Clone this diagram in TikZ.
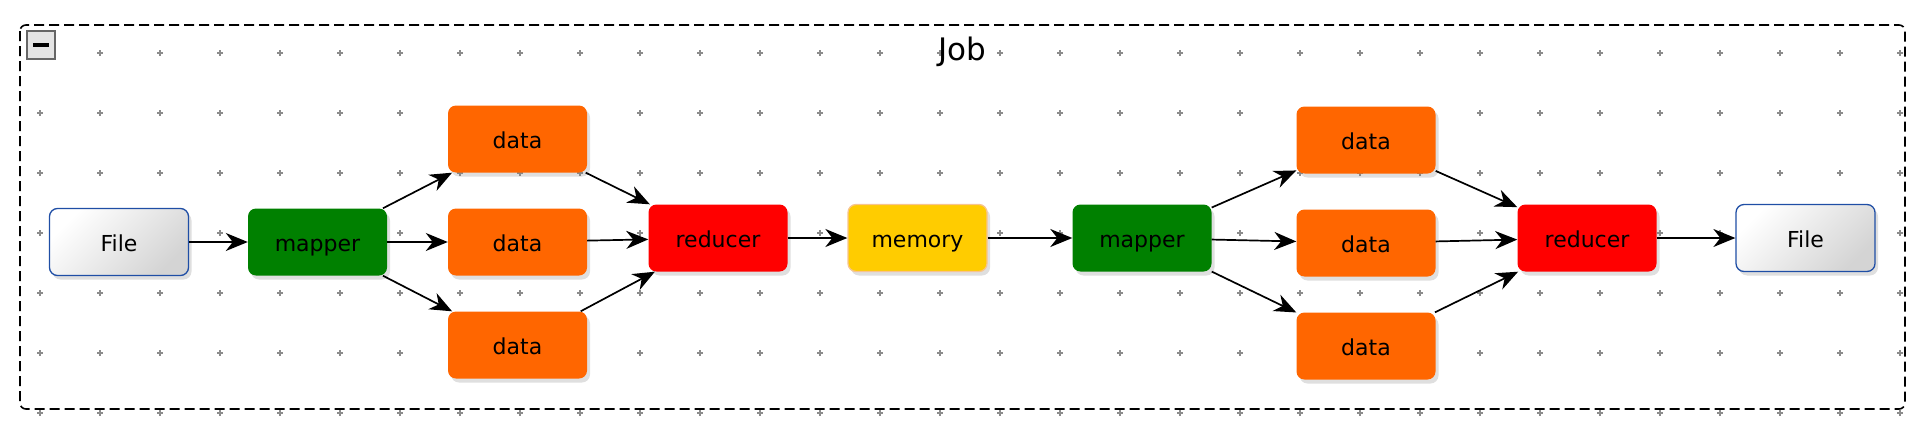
\documentclass[tikz,border=0pt]{standalone}
\usepackage{fontspec}
\setmainfont{DejaVu Sans}
\usetikzlibrary{arrows.meta,shadows}
\definecolor{mapgreen}{HTML}{008000}
\definecolor{dataorange}{HTML}{FF6600}
\definecolor{redfill}{HTML}{FF0000}
\definecolor{memyellow}{HTML}{FFCC00}
\definecolor{memborder}{HTML}{F7C48E}
\definecolor{fileblue}{HTML}{1F4EA5}
\definecolor{plusgray}{HTML}{8C8C8C}
\definecolor{btngray}{HTML}{E4E4E4}
\tikzset{font=\fontsize{22}{26}\selectfont}
\tikzset{box/.style={rounded corners=8pt, minimum width=139pt, minimum height=67pt,
    inner sep=0pt, text height=18.6pt, text depth=0pt,
    drop shadow={shadow xshift=3pt, shadow yshift=-4pt, opacity=.25}}}
\tikzset{filebox/.style={box, draw=fileblue, line width=1.3pt,
    top color=white, bottom color=black!17, shading angle=45}}
\tikzset{mapbox/.style={box, fill=mapgreen}}
\tikzset{databox/.style={box, fill=dataorange}}
\tikzset{redbox/.style={box, fill=redfill}}
\tikzset{membox/.style={box, fill=memyellow, draw=memborder, line width=1.3pt}}
\tikzset{flow/.style={line width=1.7pt, -{Stealth[length=22pt, width=18pt, inset=7pt]}}}
\tikzset{plusmark/.style={plusgray, line width=1.5pt}}

\begin{document}
\begin{tikzpicture}[x=1pt,y=-1pt]
  \useasboundingbox (0,0) rectangle (1924,434);

  % grid
  \foreach \x in {40,100,...,1900}
    \foreach \y in {53,113,...,413}
      \draw[plusmark] (\x-3,\y) -- (\x+3,\y) (\x,\y-3) -- (\x,\y+3);

  \draw[line width=1.6pt, rounded corners=6pt, dash pattern=on 10pt off 5pt]
    (20,25) rectangle (1905,409);
  \node[draw=black!60, fill=btngray, line width=1.3pt, minimum size=28pt, inner sep=0pt]
    (btn) at (41,45) {};
  \fill (btn.center) +(-8,-2) rectangle +(8,2);
  \node[font=\fontsize{31}{36}\selectfont] (job) at (962,52) {Job};

  \node[filebox] (f1) at (119,242) {File};
  \node[mapbox] (m1) at (317.5,242) {mapper};
  \node[databox] (d1) at (517.5,139) {data};
  \node[databox] (d2) at (517.5,242) {data};
  \node[databox] (d3) at (517.5,345) {data};
  \node[redbox] (r1) at (718,238) {reducer};
  \node[membox] (mem) at (917.5,238) {memory};
  \node[mapbox] (m2) at (1142,238) {mapper};
  \node[databox] (d4) at (1366,140) {data};
  \node[databox] (d5) at (1366,243) {data};
  \node[databox] (d6) at (1366,346) {data};
  \node[redbox] (r2) at (1587,238) {reducer};
  \node[filebox] (f2) at (1805.5,238) {File};

  \draw[flow] (f1) -- (m1);
  \foreach \d in {d1,d2,d3} {
    \draw[flow] (m1) -- (\d);
    \draw[flow] (\d) -- (r1);
  }
  \draw[flow] (r1) -- (mem);
  \draw[flow] (mem) -- (m2);
  \foreach \d in {d4,d5,d6} {
    \draw[flow] (m2) -- (\d);
    \draw[flow] (\d) -- (r2);
  }
  \draw[flow] (r2) -- (f2);
\end{tikzpicture}
\end{document}
